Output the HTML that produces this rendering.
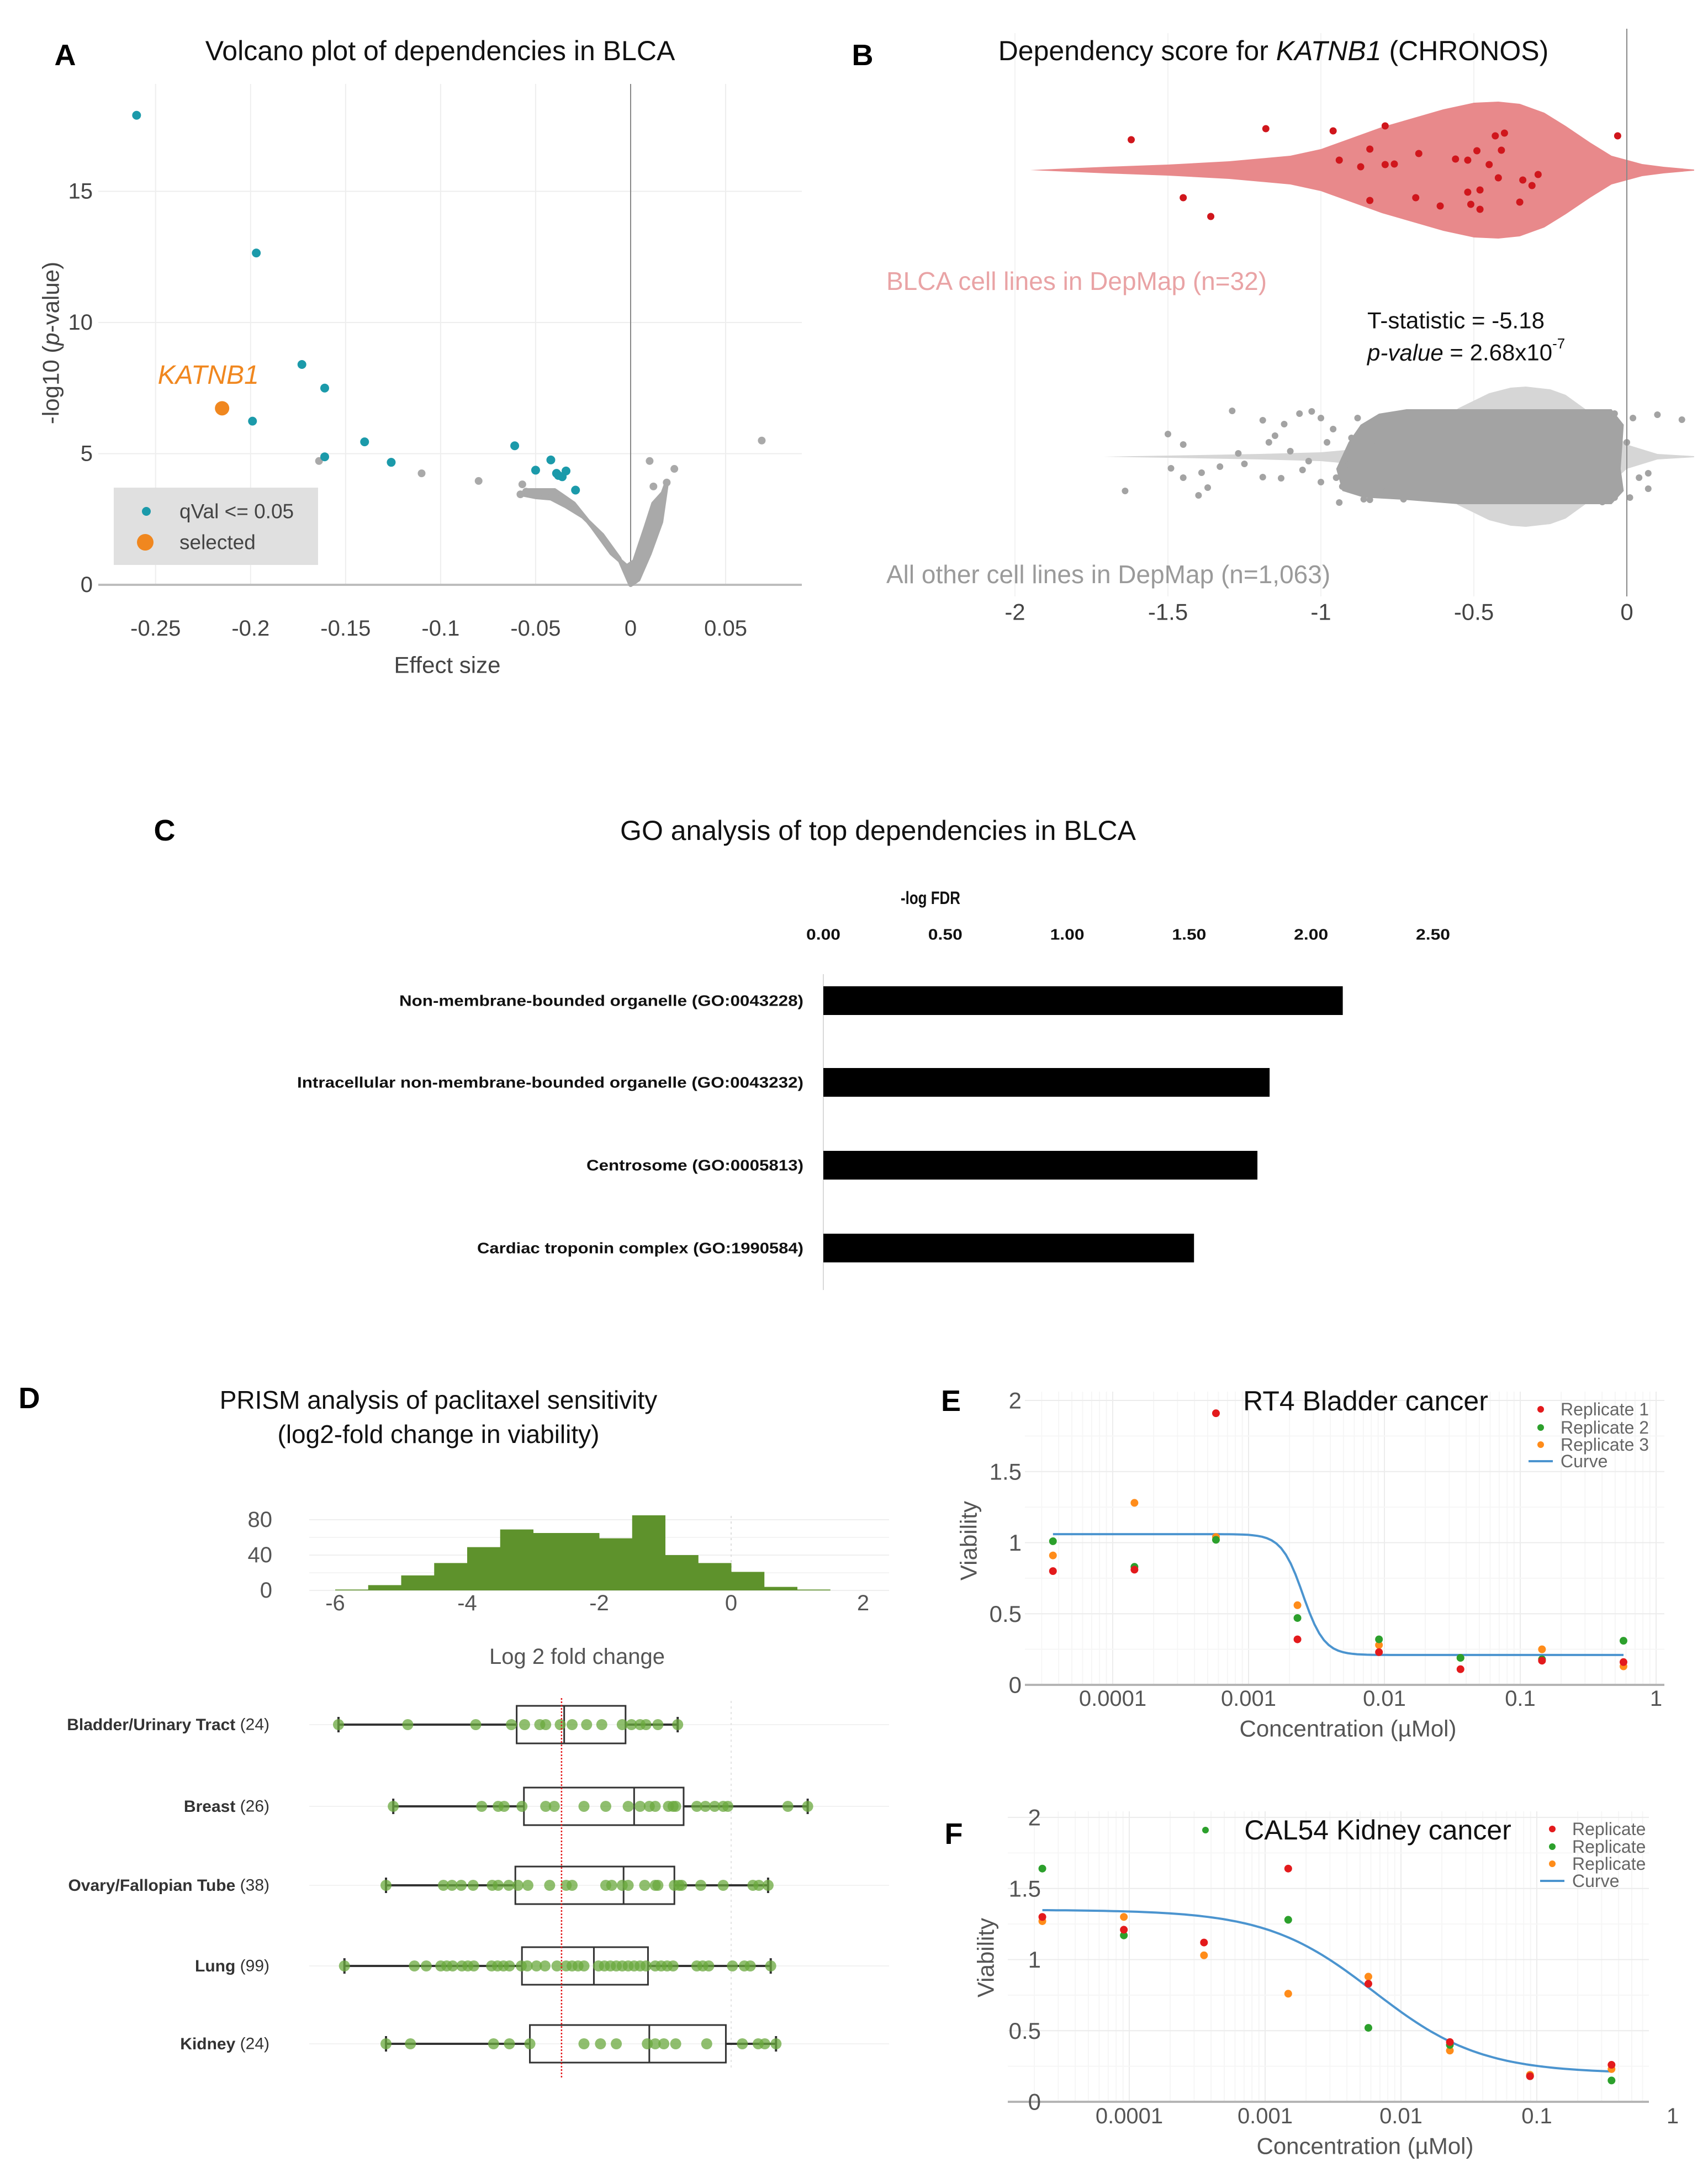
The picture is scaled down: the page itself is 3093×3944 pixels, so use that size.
<!DOCTYPE html>
<html><head><meta charset="utf-8"><title>KATNB1 dependency figure</title>
<style>
html,body{margin:0;padding:0;background:#fff;}
svg{display:block;font-family:"Liberation Sans",Arial,sans-serif;}
</style></head>
<body>
<svg id="fig" xmlns="http://www.w3.org/2000/svg" width="3093" height="3944" viewBox="0 0 3093 3944">
<rect x="0" y="0" width="3093" height="3944" fill="#fff"/>
</svg>
<script>
// ---------- Panel A data ----------
const volcTealX=[-0.260,-0.197,-0.173,-0.161,-0.199,-0.140,-0.161,-0.126,-0.061,-0.050,-0.042,-0.039,-0.038,-0.034,-0.036,-0.029];
const volcTealY=[17.9,12.65,8.4,7.5,6.24,5.45,4.88,4.67,5.3,4.37,4.76,4.25,4.17,4.34,4.12,3.61];
const volcSelX=[-0.215];
const volcSelY=[6.73];
const volcGreyX=[-0.164,-0.110,-0.080,0.010,0.023,0.069,0.019,-0.057,-0.055,-0.058,-0.045,0.012];
const volcGreyY=[4.72,4.25,3.96,4.72,4.42,5.5,3.9,3.83,3.55,3.45,3.4,3.75];
const cloudX=[0,-0.006,-0.015,-0.025,-0.034,-0.042,-0.050,-0.057,-0.055,-0.040,-0.030,-0.020,-0.010,-0.002,0.002,0.008,0.012,0.017,0.019,0.016,0.010,0.004];
const cloudY=[0,1.0,1.9,2.6,3.0,3.3,3.35,3.45,3.6,3.6,3.1,2.2,1.2,0.7,0.9,2.2,3.1,3.5,3.9,2.4,1.2,0.2];
const volcXTicks=[-0.25,-0.2,-0.15,-0.1,-0.05,0,0.05];
const volcXLabels=["-0.25","-0.2","-0.15","-0.1","-0.05","0","0.05"];
const volcYTicks=[0,5,10,15];
// ---------- Panel B data ----------
const blcaX=[-1.62,-1.18,-0.96,-0.79,-0.03,-0.43,-0.40,-0.84,-0.68,-0.49,-0.41,-0.94,-0.87,-0.79,-0.76,-0.56,-0.52,-0.45,-0.42,-0.34,-0.29,-0.31,-1.45,-1.36,-0.84,-0.69,-0.61,-0.52,-0.48,-0.51,-0.48,-0.35];
const blcaOff=[-55,-75,-71,-80,-62,-62,-67,-38,-30,-35,-36,-18,-6,-10,-11,-20,-18,-10,14,18,8,28,50,84,55,50,65,40,36,62,71,58];
const redViolinV=[-1.95,-1.7,-1.5,-1.3,-1.1,-1.0,-0.9,-0.8,-0.7,-0.6,-0.5,-0.42,-0.35,-0.27,-0.2,-0.12,-0.05,0.05,0.12,0.22];
const redViolinW=[0,6,10,16,26,38,58,78,94,110,122,124,120,104,80,50,26,11,6,1];
const greyViolinV=[-1.71,-1.5,-1.2,-1.0,-0.9,-0.8,-0.7,-0.6,-0.55,-0.45,-0.38,-0.33,-0.25,-0.2,-0.1,0,0.1,0.22];
const greyViolinW=[0,2,5,8,13,22,38,70,88,115,125,127,122,112,72,22,5,1];
const othersX=[-1.64,-1.50,-1.49,-1.45,-1.45,-1.40,-1.39,-1.37,-1.33,-1.29,-1.27,-1.25,-1.19,-1.19,-1.17,-1.15,-1.13,-1.12,-1.10,-1.07,-1.06,-1.04,-1.03,-1.00,-1.00,-0.98,-0.96,-0.95,-0.94,-0.93,-0.91,-0.90,-0.88,-0.86,-0.84,-0.82,-0.80,-0.80,-0.73,-0.72,-0.04,0,0.02,0.04,0.07,0.07,0.10,0.18,-0.04,0.01,-0.08];
const othersOff=[62,-41,21,-22,38,70,29,56,18,-83,-6,13,-66,37,-26,-38,39,-59,-10,-78,24,8,-82,-70,46,-26,-50,38,83,54,14,-34,-70,77,78,-18,54,-70,77,-66,-78,-26,-70,38,30,58,-76,-67,74,74,82];
const densePolyV=[-0.95,-0.91,-0.87,-0.81,-0.72,-0.05,-0.01,-0.02,-0.01,-0.05,-0.55,-0.73,-0.86,-0.93];
const densePolyO=[22,-26,-58,-78,-86,-86,-58,22,62,86,86,78,74,62];
const depTicks=[-2,-1.5,-1,-0.5,0];
const depLabels=["-2","-1.5","-1","-0.5","0"];
// ---------- Panel C data ----------
const goTerms=["Non-membrane-bounded organelle (GO:0043228)","Intracellular non-membrane-bounded organelle (GO:0043232)","Centrosome (GO:0005813)","Cardiac troponin complex (GO:1990584)"];
const goValues=[2.13,1.83,1.78,1.52];
const goLabelW=[732,917,393,591];
const goTicks=[0,0.5,1,1.5,2,2.5];
const goTickLabels=["0.00","0.50","1.00","1.50","2.00","2.50"];
// ---------- Panel D data ----------
const histBinStart=[-6,-5.5,-5,-4.5,-4,-3.5,-3,-2.5,-2,-1.5,-1,-0.5,0,0.5,1];
const histCounts=[1,6,17,31,49,69,65,65,59,85,40,31,21,4,1];
const histYTicks=[0,40,80];
const lfcTicks=[-6,-4,-2,0,2];
const lineageNames=["Bladder/Urinary Tract","Breast","Ovary/Fallopian Tube","Lung","Kidney"];
const lineageN=["(24)","(26)","(38)","(99)","(24)"];
const boxMin=[-5.95,-5.12,-5.23,-5.86,-5.23];
const boxQ1=[-3.25,-3.14,-3.27,-3.17,-3.05];
const boxMed=[-2.53,-1.47,-1.63,-2.08,-1.24];
const boxQ3=[-1.60,-0.72,-0.86,-1.26,-0.08];
const boxMax=[-0.81,1.16,0.56,0.60,0.68];
const refLine=[-2.57];
const dotsBladder=[-5.95,-4.90,-3.87,-3.33,-3.13,-2.90,-2.81,-2.59,-2.41,-2.19,-1.96,-1.65,-1.51,-1.38,-1.29,-1.11,-0.81];
const dotsBreast=[-5.12,-3.78,-3.53,-3.44,-3.17,-2.81,-2.68,-2.23,-1.90,-1.56,-1.38,-1.24,-1.15,-0.95,-0.88,-0.84,-0.52,-0.39,-0.25,-0.12,-0.05,0.86,1.16];
const dotsOvary=[-5.23,-4.36,-4.23,-4.09,-3.91,-3.62,-3.53,-3.37,-3.23,-3.08,-2.75,-2.50,-2.41,-1.90,-1.81,-1.65,-1.56,-1.31,-1.15,-1.11,-0.86,-0.79,-0.75,-0.46,-0.12,0.33,0.42,0.56];
const dotsLung=[-5.86,-4.80,-4.62,-4.40,-4.31,-4.22,-4.08,-3.99,-3.90,-3.63,-3.54,-3.45,-3.36,-3.18,-3.09,-2.95,-2.82,-2.64,-2.50,-2.41,-2.32,-2.23,-2.01,-1.92,-1.83,-1.74,-1.65,-1.56,-1.47,-1.38,-1.29,-1.15,-1.06,-0.97,-0.88,-0.52,-0.43,-0.34,0.02,0.20,0.29,0.60];
const dotsKidney=[-5.23,-4.86,-3.60,-3.36,-3.05,-2.23,-1.98,-1.74,-1.27,-1.15,-1.02,-0.84,-0.37,0.17,0.41,0.51,0.68];
// ---------- Panel E data ----------
const eLogConc=[-4.44,-3.84,-3.24,-2.64,-2.04,-1.44,-0.84,-0.24];
const eRep1=[0.80,0.81,1.91,0.32,0.23,0.11,0.17,0.16];
const eRep2=[1.01,0.83,1.02,0.47,0.32,0.19,0.18,0.31];
const eRep3=[0.91,1.28,1.04,0.56,0.28,0.19,0.25,0.13];
const eFit=[1.06,0.21,-2.60,5.5];
// ---------- Panel F data ----------
const fLogConc=[-4.64,-4.04,-3.45,-2.83,-2.24,-1.64,-1.05,-0.45];
const fRep1=[1.30,1.21,1.12,1.64,0.83,0.42,0.18,0.26];
const fRep2=[1.64,1.17,null,1.28,0.52,0.40,0.18,0.15];
const fRep3=[1.27,1.30,1.03,0.76,0.88,0.36,0.19,0.23];
const fFit=[1.35,0.2,-2.2,1.1];
const doseTicks=[-4,-3,-2,-1,0];
const doseLabels=["0.0001","0.001","0.01","0.1","1"];
const viaTicks=[0,0.5,1,1.5,2];
const viaLabels=["0","0.5","1","1.5","2"];

const NS="http://www.w3.org/2000/svg";
const svg=document.getElementById('fig');
function mk(tag,attrs,name,parent){
  const el=document.createElementNS(NS,tag);
  for(const k in attrs) el.setAttribute(k,attrs[k]);
  
  
  (parent||svg).appendChild(el);
  return el;
}
function txt(x,y,s,size,fill,name,opts){
  opts=opts||{};
  const t=mk('text',{x:x,y:y,'font-size':size,fill:fill,'text-anchor':opts.anchor||'middle','dominant-baseline':'central','font-weight':opts.weight||'normal','font-style':opts.style||'normal'},name);
  if(opts.tl){t.setAttribute('textLength',opts.tl);t.setAttribute('lengthAdjust','spacingAndGlyphs');}
  if(opts.rot) t.setAttribute('transform','rotate(-90 '+x+' '+y+')');
  t.textContent=s;
  return t;
}

// ================= Panel A =================
(function(){
  const X=v=>1142+v*3441, Y=v=>1059-v*47.5;
  const L=178,R=1452,T=152;
  volcXTicks.forEach(v=>mk('line',{x1:X(v),x2:X(v),y1:T,y2:1059,stroke:'#eeeeee','stroke-width':2},'a-x-gridline'));
  volcYTicks.forEach(v=>mk('line',{x1:L,x2:R,y1:Y(v),y2:Y(v),stroke:'#eeeeee','stroke-width':2},'a-y-gridline'));
  mk('line',{x1:L,x2:R,y1:Y(0),y2:Y(0),stroke:'#bdbdbd','stroke-width':4},'a-x-axis');
  mk('line',{x1:X(0),x2:X(0),y1:T,y2:Y(0),stroke:'#888','stroke-width':2},'a-zero-line');
  let pts=cloudX.map((v,i)=>X(v)+','+Y(cloudY[i])).join(' ');
  mk('polygon',{points:pts,fill:'#a9a9a9',stroke:'#a9a9a9','stroke-width':8,'stroke-linejoin':'round'},'a-nonsignificant-cloud');
  volcGreyX.forEach((v,i)=>mk('circle',{cx:X(v),cy:Y(volcGreyY[i]),r:7,fill:'#a9a9a9'},'a-nonsignificant-point'));
  volcTealX.forEach((v,i)=>mk('circle',{cx:X(v),cy:Y(volcTealY[i]),r:8,fill:'#1b9aaa'},'a-significant-point'));
  volcSelX.forEach((v,i)=>mk('circle',{cx:X(v),cy:Y(volcSelY[i]),r:13,fill:'#f0871f'},'a-selected-point'));
  txt(X(volcSelX[0])-25,Y(volcSelY[0])-60,'KATNB1',48,'#f0871f','a-katnb1-label',{style:'italic'});
  volcXTicks.forEach((v,i)=>txt(X(v),1138,volcXLabels[i],40,'#444','a-x-tick-label'));
  volcYTicks.forEach(v=>txt(168,Y(v),String(v),40,'#444','a-y-tick-label',{anchor:'end'}));
  txt(810,1204,'Effect size',42,'#444','a-x-axis-title');
  const yl=mk('text',{x:92,y:621,'font-size':42,fill:'#444','text-anchor':'middle','dominant-baseline':'central',transform:'rotate(-90 92 621)'},'a-y-axis-title');
  yl.innerHTML='-log10 (<tspan font-style="italic">p</tspan>-value)';
  txt(797,92,'Volcano plot of dependencies in BLCA',50,'#111','a-title');
  txt(118,100,'A',54,'#000','a-panel-letter',{weight:'bold'});
  mk('rect',{x:206,y:883,width:370,height:140,fill:'#e0e0e0'},'a-legend-box');
  mk('circle',{cx:265,cy:926,r:8,fill:'#1b9aaa'},'a-legend-teal-marker');
  mk('circle',{cx:263,cy:982,r:15,fill:'#f0871f'},'a-legend-orange-marker');
  txt(325,926,'qVal <= 0.05',37,'#444','a-legend-qval',{anchor:'start'});
  txt(325,982,'selected',37,'#444','a-legend-selected',{anchor:'start'});
})();

// ================= Panel B =================
(function(){
  const X=v=>2946+v*554;
  const redC=308, greyC=827;
  depTicks.forEach(v=>mk('line',{x1:X(v),x2:X(v),y1:60,y2:1080,stroke:'#f2f2f2','stroke-width':2},'b-x-gridline'));
  function violin(vs,ws,c,fill,name){
    let top=vs.map((v,i)=>X(v)+','+(c-ws[i]));
    let bot=vs.slice().reverse().map((v,i)=>X(v)+','+(c+ws[vs.length-1-i]));
    mk('polygon',{points:top.concat(bot).join(' '),fill:fill},name);
  }
  violin(redViolinV,redViolinW,redC,'#e8898b','b-blca-violin');
  blcaX.forEach((v,i)=>mk('circle',{cx:X(v),cy:redC+blcaOff[i],r:6.5,fill:'#d0161c'},'b-blca-point'));
  violin(greyViolinV,greyViolinW,greyC,'#d6d6d6','b-others-violin');
  mk('polygon',{points:densePolyV.map((v,i)=>X(v)+','+(greyC+densePolyO[i])).join(' '),fill:'#a3a3a3'},'b-others-dense-points');
  othersX.forEach((v,i)=>mk('circle',{cx:X(v),cy:greyC+othersOff[i],r:6,fill:'#a3a3a3'},'b-others-point'));
  mk('line',{x1:X(0),x2:X(0),y1:52,y2:1080,stroke:'#888','stroke-width':2},'b-zero-line');
  depTicks.forEach((v,i)=>txt(X(v),1108,depLabels[i],42,'#444','b-x-tick-label'));
  txt(1605,509,'BLCA cell lines in DepMap (n=32)',46,'#e9a3a5','b-blca-label',{anchor:'start'});
  txt(1605,1040,'All other cell lines in DepMap (n=1,063)',46,'#9a9a9a','b-others-label',{anchor:'start'});
  txt(2476,580,'T-statistic = -5.18',42,'#111','b-t-statistic',{anchor:'start'});
  const pv=mk('text',{x:2476,y:638,'font-size':42,fill:'#111','dominant-baseline':'central'},'b-p-value');
  pv.innerHTML='<tspan font-style="italic">p-value</tspan> = 2.68x10<tspan font-size="26" dy="-16">-7</tspan>';
  const tt=mk('text',{x:2306,y:92,'font-size':50,fill:'#111','text-anchor':'middle','dominant-baseline':'central'},'b-title');
  tt.innerHTML='Dependency score for <tspan font-style="italic">KATNB1</tspan> (CHRONOS)';
  txt(1562,100,'B',54,'#000','b-panel-letter',{weight:'bold'});
})();

// ================= Panel C =================
(function(){
  const X=v=>1491+v*441.6;
  const rows=[1812,1960,2110,2260];
  mk('line',{x1:X(0),x2:X(0),y1:1764,y2:2336,stroke:'#d9d9d9','stroke-width':2},'c-y-axis-line');
  goValues.forEach((v,i)=>mk('rect',{x:X(0),y:rows[i]-26,width:X(v)-X(0),height:52,fill:'#000'},'c-bar'));
  goTerms.forEach((s,i)=>txt(1455,rows[i],s,28,'#111','c-term-label',{anchor:'end',weight:'bold',tl:goLabelW[i]}));
  goTicks.forEach((v,i)=>txt(X(v),1692,goTickLabels[i],28,'#111','c-tick-label',{weight:'bold',tl:62}));
  txt(1685,1626,'-log FDR',32,'#111','c-axis-title',{weight:'bold',tl:108});
  txt(1590,1504,'GO analysis of top dependencies in BLCA',50,'#111','c-title');
  txt(298,1504,'C',54,'#000','c-panel-letter',{weight:'bold'});
})();

// ================= Panel D =================
(function(){
  const X=v=>1324+v*119.5;
  const HY=c=>2880-c*1.6;
  histYTicks.forEach(v=>mk('line',{x1:560,x2:1610,y1:HY(v),y2:HY(v),stroke:'#efefef','stroke-width':2},'d-hist-gridline'));
  mk('line',{x1:560,x2:1610,y1:HY(60),y2:HY(60),stroke:'#f4f4f4','stroke-width':2},'d-hist-gridline');
  mk('line',{x1:560,x2:1610,y1:HY(20),y2:HY(20),stroke:'#f4f4f4','stroke-width':2},'d-hist-gridline');
  mk('line',{x1:X(0),x2:X(0),y1:2745,y2:2880,stroke:'#ddd','stroke-width':2,'stroke-dasharray':'4,6'},'d-hist-zero-line');
  histBinStart.forEach((b,i)=>mk('rect',{x:X(b),y:HY(histCounts[i]),width:X(b+0.5)-X(b)+0.5,height:histCounts[i]*1.6,fill:'#5e922c'},'d-hist-bar'));
  histYTicks.forEach(v=>txt(493,HY(v),String(v),40,'#555','d-hist-y-tick',{anchor:'end'}));
  lfcTicks.forEach(v=>txt(X(v),2903,String(v),40,'#555','d-hist-x-tick'));
  txt(1045,3000,'Log 2 fold change',40,'#555','d-axis-title');
  const rows=[3123,3271,3414,3560,3701];
  rows.forEach(r=>mk('line',{x1:560,x2:1610,y1:r,y2:r,stroke:'#f2f2f2','stroke-width':2},'d-row-gridline'));
  mk('line',{x1:X(0),x2:X(0),y1:3080,y2:3750,stroke:'#e2e2e2','stroke-width':2,'stroke-dasharray':'4,6'},'d-zero-line');
  const dots=[dotsBladder,dotsBreast,dotsOvary,dotsLung,dotsKidney];
  lineageNames.forEach((n,i)=>{
    const r=rows[i];
    mk('line',{x1:X(boxMin[i]),x2:X(boxQ1[i]),y1:r,y2:r,stroke:'#333','stroke-width':4},'d-whisker-low');
    mk('line',{x1:X(boxQ3[i]),x2:X(boxMax[i]),y1:r,y2:r,stroke:'#333','stroke-width':4},'d-whisker-high');
    mk('line',{x1:X(boxMin[i]),x2:X(boxMin[i]),y1:r-14,y2:r+14,stroke:'#333','stroke-width':4},'d-whisker-cap');
    mk('line',{x1:X(boxMax[i]),x2:X(boxMax[i]),y1:r-14,y2:r+14,stroke:'#333','stroke-width':4},'d-whisker-cap');
    mk('rect',{x:X(boxQ1[i]),y:r-34,width:X(boxQ3[i])-X(boxQ1[i]),height:68,fill:'none',stroke:'#333','stroke-width':3},'d-box');
    mk('line',{x1:X(boxMed[i]),x2:X(boxMed[i]),y1:r-34,y2:r+34,stroke:'#333','stroke-width':3},'d-median');
    dots[i].forEach(v=>mk('circle',{cx:X(v),cy:r,r:10,fill:'#6aa83e','fill-opacity':0.75},'d-cell-line-dot'));
    const t=mk('text',{x:488,y:r,'font-size':30,fill:'#333','text-anchor':'end','dominant-baseline':'central'},'d-lineage-label');
    t.innerHTML='<tspan font-weight="bold">'+n+'</tspan> '+lineageN[i];
  });
  mk('line',{x1:X(refLine[0]),x2:X(refLine[0]),y1:3075,y2:3765,stroke:'#e31a1c','stroke-width':2.5,'stroke-dasharray':'3,3'},'d-reference-line');
  txt(794,2535,'PRISM analysis of paclitaxel sensitivity',46,'#111','d-title-line1');
  txt(794,2597,'(log2-fold change in viability)',46,'#111','d-title-line2');
  txt(53,2532,'D',54,'#000','d-panel-letter',{weight:'bold'});
})();

// ================= Panels E & F =================
function dosePanel(o){
  const X=l=>o.x0+(l-o.l0)*246, Y=v=>o.y0-v*257.5;
  for(let d=-5;d<=0;d++){for(let m=1;m<10;m++){const l=d+Math.log10(m);const px=X(l);if(px<o.left||px>o.right)continue;
    mk('line',{x1:px,x2:px,y1:o.top,y2:o.y0,stroke:m===1?'#ececec':'#f6f6f6','stroke-width':2},o.p+'-x-gridline');}}
  [0.25,0.5,0.75,1,1.25,1.5,1.75,2].forEach(v=>mk('line',{x1:o.left,x2:o.right,y1:Y(v),y2:Y(v),stroke:v%0.5===0?'#ececec':'#f6f6f6','stroke-width':2},o.p+'-y-gridline'));
  mk('line',{x1:o.left,x2:o.right,y1:Y(0),y2:Y(0),stroke:'#b5b5b5','stroke-width':4},o.p+'-x-axis');
  const lc=o.logc, f=o.fit;
  const N=120, a=lc[0], b=lc[lc.length-1];
  let d='';
  for(let i=0;i<=N;i++){const l=a+(b-a)*i/N;const v=f[1]+(f[0]-f[1])/(1+Math.pow(10,(l-f[2])*f[3]));d+=(i?'L':'M')+X(l).toFixed(1)+','+Y(v).toFixed(1);}
  mk('path',{d:d,fill:'none',stroke:'#4b94cf','stroke-width':4},o.p+'-fit-curve');
  const cols=['#e31a1c','#2ca02c','#ff8c1a'];
  [o.r3,o.r2,o.r1].forEach((rep,k)=>{const col=cols[2-k];rep.forEach((v,i)=>{if(v===null)return;mk('circle',{cx:X(lc[i]),cy:Y(v),r:7,fill:col},o.p+'-replicate-point');});});
  doseTicks.forEach((l,i)=>txt(X(l),o.tickY,doseLabels[i],40,'#555',o.p+'-x-tick-label'));
  viaTicks.forEach((v,i)=>txt(o.yTickX,Y(v),viaLabels[i],42,'#555',o.p+'-y-tick-label',{anchor:'end'}));
  txt(o.xLabelX,o.xLabelY,'Concentration (µMol)',42,'#555',o.p+'-x-axis-title');
  txt(o.yLabelX,o.yLabelC,'Viability',42,'#555',o.p+'-y-axis-title',{rot:true});
  txt(o.titleX,o.titleY,o.title,50,'#111',o.p+'-title');
  txt(o.letterX,o.letterY,o.letter,54,'#000',o.p+'-panel-letter',{weight:'bold'});
  o.legY.forEach((y,i)=>{
    if(i<3) mk('circle',{cx:o.legX,cy:y,r:6,fill:cols[i]},o.p+'-legend-marker');
    else mk('line',{x1:o.legX-22,x2:o.legX+22,y1:y,y2:y,stroke:'#4b94cf','stroke-width':4},o.p+'-legend-line');
    txt(o.legX+36,y,o.legText[i],32,'#666',o.p+'-legend-text',{anchor:'start'});
  });
}
dosePanel({p:'e',x0:2999,l0:0,y0:3051,left:1856,right:3014,top:2520,logc:eLogConc,r1:eRep1,r2:eRep2,r3:eRep3,fit:eFit,
  tickY:3076,yTickX:1850,xLabelX:2441,xLabelY:3130,yLabelX:1754,yLabelC:2790,title:'RT4 Bladder cancer',titleX:2473,titleY:2537,
  letter:'E',letterX:1722,letterY:2537,legX:2790,legY:[2552,2585,2616,2646],legText:['Replicate 1','Replicate 2','Replicate 3','Curve']});
dosePanel({p:'f',x0:2537,l0:-2,y0:3806,left:1825,right:2986,top:3280,logc:fLogConc,r1:fRep1,r2:fRep2,r3:fRep3,fit:fFit,
  tickY:3832,yTickX:1885,xLabelX:2472,xLabelY:3886,yLabelX:1785,yLabelC:3545,title:'CAL54 Kidney cancer',titleX:2495,titleY:3314,
  letter:'F',letterX:1727,letterY:3321,legX:2811,legY:[3312,3344,3375,3406],legText:['Replicate','Replicate','Replicate','Curve']});
(function(){
  const g=mk('circle',{cx:2183,cy:3314,r:6,fill:'#2ca02c'},'f-stray-legend-marker');
})();
</script>
</body></html>
